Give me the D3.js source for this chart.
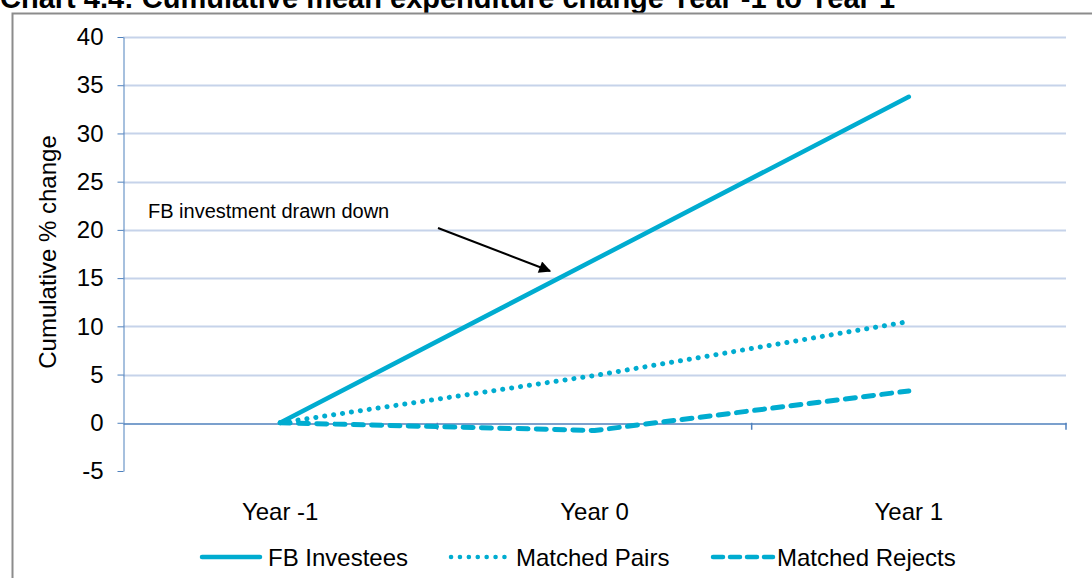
<!DOCTYPE html>
<html>
<head>
<meta charset="utf-8">
<script src="https://cdn.jsdelivr.net/npm/d3@7"></script>
<style>
  body { margin: 0; background: #fff; }
  svg { display: block; font-family: "Liberation Sans", Arial, sans-serif; }
</style>
</head>
<body>
<div id="chart"></div>
<script>
const years = ["Year -1", "Year 0", "Year 1"];
const fbInvestees = [0, 16.9, 33.8];
const matchedPairs = [0, 4.9, 10.5];
const matchedRejects = [0, -0.8, 3.3];
const yTicks = [-5, 0, 5, 10, 15, 20, 25, 30, 35, 40];

const series = [
  { name: "FB Investees", values: fbInvestees, dash: null, legendDash: null },
  { name: "Matched Pairs", values: matchedPairs, dash: "0.1 8.9", legendDash: "0.1 8.8" },
  { name: "Matched Rejects", values: matchedRejects, dash: "10 8.3", legendDash: "10 7" }
];

const W = 1092, H = 578;
const lineColor = "#00acd0";
const axisColor = "#4f81bd";

const svg = d3.select("#chart").append("svg")
  .attr("width", W)
  .attr("height", H);

// title (cut off at the top in the original)
svg.append("text")
  .attr("x", 0)
  .attr("y", 8)
  .attr("font-weight", "bold")
  .attr("font-size", "29px")
  .attr("fill", "#000")
  .text("Chart 4.4: Cumulative mean expenditure change Year -1 to Year 1");

// outer frame
svg.append("path")
  .attr("d", "M12.5," + H + "V13.5H" + W)
  .attr("fill", "none")
  .attr("stroke", "#8c8c8c")
  .attr("stroke-width", 2);

const x = d3.scaleBand()
  .domain(years)
  .range([123, 1066]);

const y = d3.scaleLinear()
  .domain([-5, 40])
  .range([471, 37]);

// gridlines
svg.append("g")
  .selectAll("line")
  .data(yTicks.filter(d => d !== 0 && d !== -5))
  .enter().append("line")
    .attr("x1", 123)
    .attr("x2", 1066)
    .attr("y1", d => Math.round(y(d)) + 0.5)
    .attr("y2", d => Math.round(y(d)) + 0.5)
    .attr("stroke", "#c6d3ea")
    .attr("stroke-width", 2);

// y axis
const axisY = svg.append("g")
  .attr("transform", "translate(123.5,0)")
  .call(d3.axisLeft(y).tickValues(yTicks).tickFormat(d => String(d))
    .tickSize(6).tickPadding(14).tickSizeOuter(0));
axisY.select("path").style("stroke", axisColor);
axisY.selectAll("line").style("stroke", axisColor);
axisY.selectAll("text")
  .style("fill", "#000")
  .style("font-size", "24px")
  .style("font-family", "Liberation Sans, Arial, sans-serif");

// x axis along zero
const axisX = svg.append("g")
  .attr("transform", "translate(0," + (Math.round(y(0)) + 0.5) + ")")
  .call(d3.axisBottom(x).tickSize(0).tickSizeOuter(0).tickFormat(""));
axisX.select("path").style("stroke", axisColor).style("stroke-width", 1.5);

// band boundary ticks
svg.append("g")
  .selectAll("line")
  .data(years.slice(1).concat(["end"]))
  .enter().append("line")
    .attr("x1", d => d === "end" ? 1066 : x(d))
    .attr("x2", d => d === "end" ? 1066 : x(d))
    .attr("y1", y(0))
    .attr("y2", y(0) + 7)
    .attr("stroke", axisColor)
    .attr("stroke-width", 1.5);

// category labels below plot
svg.append("g")
  .selectAll("text")
  .data(years)
  .enter().append("text")
    .attr("x", d => x(d) + x.bandwidth() / 2)
    .attr("y", 520)
    .attr("text-anchor", "middle")
    .attr("font-size", "24px")
    .attr("fill", "#000")
    .text(d => d);

// y title
svg.append("text")
  .attr("transform", "translate(56,252) rotate(-90)")
  .attr("text-anchor", "middle")
  .attr("font-size", "24px")
  .attr("fill", "#000")
  .text("Cumulative % change");

const line = d3.line()
  .x((d, i) => x(years[i]) + x.bandwidth() / 2)
  .y(d => y(d));

svg.append("g")
  .selectAll("path")
  .data(series)
  .enter().append("path")
    .attr("d", d => line(d.values))
    .attr("fill", "none")
    .attr("stroke", lineColor)
    .attr("stroke-width", d => d.dash ? 5 : 4.5)
    .attr("stroke-linecap", "round")
    .attr("stroke-linejoin", "round")
    .attr("stroke-dasharray", d => d.dash);

// annotation
svg.append("defs").append("marker")
  .attr("id", "arrow")
  .attr("viewBox", "0 0 10 10")
  .attr("refX", 9)
  .attr("refY", 5)
  .attr("markerWidth", 8)
  .attr("markerHeight", 6)
  .attr("orient", "auto")
  .attr("markerUnits", "strokeWidth")
  .append("path")
    .attr("d", "M0,0L10,5L0,10z")
    .attr("fill", "#000");

svg.append("text")
  .attr("x", 148)
  .attr("y", 218)
  .attr("font-size", "20px")
  .attr("fill", "#000")
  .text("FB investment drawn down");

svg.append("line")
  .attr("x1", 438)
  .attr("y1", 228)
  .attr("x2", 550)
  .attr("y2", 271)
  .attr("stroke", "#000")
  .attr("stroke-width", 2)
  .attr("marker-end", "url(#arrow)");

// legend
const legendX = [200, 449, 711];
const legendTextX = [68, 67, 66];
const legend = svg.append("g")
  .selectAll("g")
  .data(series)
  .enter().append("g")
    .attr("transform", (d, i) => "translate(" + legendX[i] + ",557)");
legend.append("line")
  .attr("x1", (d, i) => i === 1 ? 2 : 2)
  .attr("x2", (d, i) => i === 0 ? 60 : (i === 1 ? 56 : 62))
  .attr("stroke", lineColor)
  .attr("stroke-width", 4.5)
  .attr("stroke-linecap", "round")
  .attr("stroke-dasharray", d => d.legendDash);
legend.append("text")
  .attr("x", (d, i) => legendTextX[i])
  .attr("y", 9)
  .attr("font-size", "24px")
  .attr("fill", "#000")
  .text(d => d.name);
</script>
</body>
</html>
